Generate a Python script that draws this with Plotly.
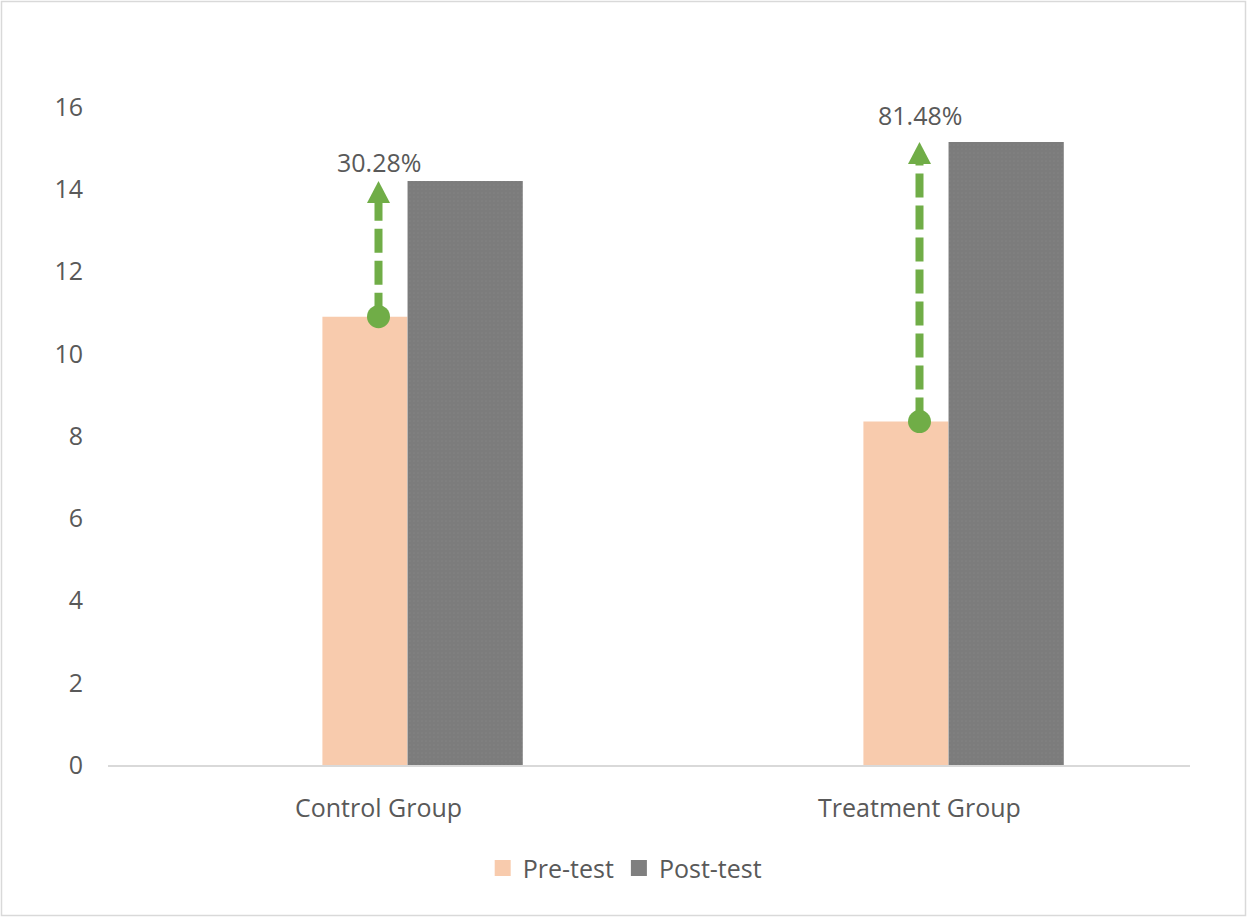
import plotly.graph_objects as go

categories = ["Control Group", "Treatment Group"]
pre_test = [10.9, 8.35]
post_test = [14.2, 15.15]
change_labels = ["30.28%", "81.48%"]
series_names = ["Pre-test", "Post-test"]
y_ticks = [0, 2, 4, 6, 8, 10, 12, 14, 16]

W, H = 1247, 917
ML, MR, MT, MB = 108, 57, 107, 152
PW, PH = W - ML - MR, H - MT - MB
Y_MAX = 16
px_per_unit = PH / Y_MAX

PRE_COLOR = "#F8CBAD"
POST_COLOR = "#7F7F7F"
GREEN = "#70AD47"
TXT = "#595959"
FONT = "Open Sans"
FS = 25
label_shifts = [0, 8]

xs = list(range(len(categories)))

fig = go.Figure()
fig.add_trace(go.Bar(x=xs, y=pre_test, width=0.157, offset=-0.1037,
                     marker=dict(color=PRE_COLOR, line=dict(width=0)),
                     name=series_names[0], showlegend=False))
fig.add_trace(go.Bar(x=xs, y=post_test, width=0.213, offset=0.0537,
                     marker=dict(color=POST_COLOR, line=dict(width=0),
                                 pattern=dict(shape=".", size=4, solidity=0.12,
                                              fgcolor="#8c8c8c", bgcolor="#7c7c7c")),
                     name=series_names[1], showlegend=False))

head_h = 22 / px_per_unit
lx, ly = [], []
for i in xs:
    lx += [i, i, None]
    ly += [pre_test[i], post_test[i] - head_h * 0.6, None]
fig.add_trace(go.Scatter(x=lx, y=ly, mode="lines",
                         line=dict(color=GREEN, width=8, dash="24px,8px"),
                         showlegend=False, hoverinfo="skip"))
fig.add_trace(go.Scatter(x=xs, y=pre_test, mode="markers",
                         marker=dict(color=GREEN, size=23, symbol="circle"),
                         showlegend=False, hoverinfo="skip"))

# legend entries
fig.add_trace(go.Scatter(x=[None], y=[None], mode="markers", name=series_names[0],
                         marker=dict(color=PRE_COLOR, size=16, symbol="square")))
fig.add_trace(go.Scatter(x=[None], y=[None], mode="markers", name=series_names[1],
                         marker=dict(color=POST_COLOR, size=16, symbol="square")))

shapes = []
for i in xs:
    shapes.append(dict(type="path", xref="x", yref="y", xsizemode="pixel", ysizemode="pixel",
                       xanchor=i, yanchor=post_test[i],
                       path="M-11.5,-22 L11.5,-22 L0,0 Z",
                       fillcolor=GREEN, line=dict(width=0), layer="above"))
# outer border
shapes.append(dict(type="rect", xref="paper", yref="paper",
                   x0=(1.5 - ML) / PW, x1=(W - 1.5 - ML) / PW,
                   y0=(MT + PH - (H - 1.5)) / PH, y1=(MT + PH - 1.5) / PH,
                   line=dict(color="#D9D9D9", width=1.5), fillcolor="rgba(0,0,0,0)", layer="below"))

annotations = []
for i in xs:
    annotations.append(dict(x=i, y=post_test[i], xref="x", yref="y", text=change_labels[i],
                            showarrow=False, yanchor="bottom", yshift=label_shifts[i],
                            font=dict(family=FONT, size=FS, color=TXT)))

fig.update_layout(
    width=W, height=H,
    margin=dict(l=ML, r=MR, t=MT, b=MB, autoexpand=False),
    paper_bgcolor="white", plot_bgcolor="white",
    barmode="overlay",
    font=dict(family=FONT, size=FS, color=TXT),
    shapes=shapes, annotations=annotations,
    legend=dict(orientation="h", x=0.478, xanchor="center", y=-0.157, yanchor="middle",
                font=dict(family=FONT, size=FS, color=TXT), itemsizing="trace",
                bgcolor="rgba(0,0,0,0)"),
    xaxis=dict(range=[-0.5, 1.5], tickvals=xs, ticktext=categories, showgrid=False,
               zeroline=False, showline=True, linecolor="#D9D9D9", linewidth=1.5,
               ticks="", ticklabelstandoff=20, tickfont=dict(family=FONT, size=FS, color=TXT)),
    yaxis=dict(range=[0, Y_MAX], tickvals=y_ticks, showgrid=False, zeroline=False,
               showline=False, ticks="", ticklabelstandoff=24,
               tickfont=dict(family=FONT, size=FS, color=TXT)),
)

fig.write_html("out.html", config={"displayModeBar": False},
               post_script="document.body.style.margin='0';document.body.style.padding='0';")
